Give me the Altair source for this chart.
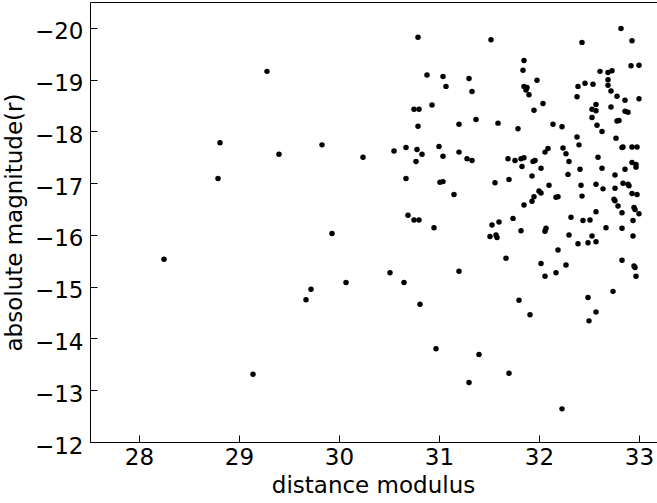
import altair as alt
import pandas as pd

distance_modulus = [
    29.28, 28.81, 29.40, 28.79, 28.25, 29.14,
    30.79, 30.88, 31.04, 31.30, 31.07, 31.33, 30.93, 30.75, 30.80, 31.37, 31.20, 30.79,
    29.83, 30.24, 30.55, 30.67, 30.78, 30.83, 30.77, 31.00, 31.04, 31.20, 31.28, 31.33,
    30.67, 31.01, 31.04, 31.15, 30.69, 30.75, 30.80, 30.95,
    29.93, 30.51, 31.20, 30.07, 30.65, 29.72, 29.67, 30.81, 30.97, 31.40, 31.30,
    31.52, 32.82, 32.93, 32.43, 31.85, 31.84, 32.92, 33.00, 32.61, 32.69, 32.73, 31.98,
    32.69, 32.46, 32.54, 32.39, 32.69, 31.85, 31.88, 31.87, 31.90, 32.72, 32.78, 32.38,
    32.86, 33.00, 32.04, 31.95, 32.57, 32.53, 32.57, 32.72, 32.86, 32.89, 32.53, 32.78,
    32.80, 31.59, 31.79, 32.14, 32.23, 32.58, 32.63, 32.38, 32.40, 32.77, 32.83, 32.84,
    32.93, 32.98, 32.09, 32.06, 32.24, 32.27, 32.30, 31.69, 31.76, 31.82, 31.85, 31.83,
    31.94, 31.96, 32.02, 31.93, 32.29, 32.41, 32.59, 32.63, 32.76, 32.86, 32.93, 32.97,
    32.97, 31.56, 31.70, 32.10, 32.42, 32.57, 32.64, 32.76, 32.84, 32.89, 32.90, 32.93,
    32.98, 31.95, 32.00, 32.02, 32.17, 32.19, 32.43, 32.75, 32.76, 31.85, 31.93, 32.79,
    32.95, 32.96, 33.00, 32.83, 32.57, 32.44, 32.51, 32.32, 31.74, 31.53, 31.60, 31.82,
    32.07, 32.67, 32.83, 32.94,
    31.51, 31.57, 31.58, 32.06, 32.30, 32.39, 32.49, 32.53, 32.57, 32.94, 31.67, 32.19,
    32.02, 32.06, 32.17, 32.27, 32.83, 32.95, 32.96, 32.97, 31.80, 31.91, 32.49, 32.57,
    32.50, 32.74, 31.70, 32.23,
]

absolute_magnitude = [
    -19.16, -17.78, -17.56, -17.09, -15.53, -13.31,
    -19.82, -19.09, -19.06, -19.02, -18.87, -18.77, -18.51, -18.43, -18.43, -18.23, -18.14, -18.10,
    -17.74, -17.50, -17.62, -17.69, -17.65, -17.56, -17.42, -17.71, -17.52, -17.60, -17.47, -17.44,
    -17.09, -17.02, -17.03, -16.78, -16.38, -16.29, -16.29, -16.14,
    -16.03, -15.27, -15.30, -15.08, -15.08, -14.95, -14.75, -14.66, -13.80, -13.69, -13.15,
    -19.77, -19.99, -19.75, -19.72, -19.37, -19.18, -19.27, -19.28, -19.16, -19.14, -19.17, -18.99,
    -19.00, -18.93, -18.91, -18.87, -18.89, -18.87, -18.85, -18.80, -18.71, -18.78, -18.68, -18.67,
    -18.60, -18.63, -18.54, -18.41, -18.52, -18.43, -18.40, -18.47, -18.39, -18.37, -18.27, -18.20,
    -18.21, -18.16, -18.05, -18.14, -18.09, -18.12, -18.00, -17.89, -17.74, -17.87, -17.69, -17.70,
    -17.70, -17.70, -17.67, -17.60, -17.68, -17.57, -17.42, -17.47, -17.44, -17.47, -17.49, -17.32,
    -17.42, -17.44, -17.29, -17.14, -17.17, -17.27, -17.50, -17.29, -17.16, -17.27, -17.40, -17.36,
    -17.31, -17.01, -17.07, -16.96, -16.96, -16.98, -16.89, -16.90, -17.00, -16.98, -16.95, -16.80,
    -16.78, -16.74, -16.85, -16.81, -16.73, -16.74, -16.75, -16.69, -16.66, -16.58, -16.65, -16.56,
    -16.53, -16.49, -16.41, -16.43, -16.45, -16.28, -16.29, -16.34, -16.32, -16.19, -16.25, -16.08,
    -16.13, -16.14, -16.13, -16.28,
    -15.97, -16.00, -15.95, -16.07, -16.00, -15.83, -15.85, -15.98, -15.87, -15.98, -15.55, -15.71,
    -15.45, -15.20, -15.27, -15.42, -15.51, -15.40, -15.37, -15.20, -14.74, -14.46, -14.79, -14.51,
    -14.34, -14.91, -13.33, -12.64,
]

x_ticks = [28, 29, 30, 31, 32, 33]
y_ticks = [-20, -19, -18, -17, -16, -15, -14, -13, -12]

df = pd.DataFrame({"dm": distance_modulus, "mag": absolute_magnitude})

FONT = "DejaVu Sans"
FS = 23

chart = (
    alt.Chart(df)
    .mark_circle(size=30, color="black", opacity=1)
    .encode(
        x=alt.X(
            "dm:Q",
            scale=alt.Scale(domain=[27.51, 33.21], nice=False, zero=False),
            axis=alt.Axis(
                title="distance modulus",
                values=x_ticks,
                format="d",
                grid=False,
                domain=False,
                offset=-7,
                tickSize=7,
                tickColor="black",
                tickWidth=1,
                labelPadding=4,
                labelFontSize=FS,
                labelFont=FONT,
                labelColor="black",
                titleFontSize=FS,
                titleFont=FONT,
                titleFontWeight="normal",
                titleColor="black",
                titlePadding=5,
                titleX=283,
                labelFlush=False,
                labelOverlap=False,
            ),
        ),
        y=alt.Y(
            "mag:Q",
            scale=alt.Scale(domain=[-20.5, -12], nice=False, zero=False, reverse=True),
            axis=alt.Axis(
                title="absolute magnitude(r)",
                values=y_ticks,
                format="d",
                grid=False,
                domain=False,
                offset=-7,
                tickSize=7,
                tickColor="black",
                tickWidth=1,
                labelPadding=7,
                labelOffset=4,
                labelFontSize=FS,
                labelFont=FONT,
                labelColor="black",
                titleFontSize=FS,
                titleFont=FONT,
                titleFontWeight="normal",
                titleColor="black",
                titlePadding=8,
                labelFlush=False,
                labelOverlap=False,
            ),
        ),
    )
    .properties(
        width=570,
        height=440,
        padding={"left": 90, "top": 2, "right": -3, "bottom": 61},
        autosize=alt.AutoSizeParams(type="none"),
        background="white",
    )
    .configure_view(stroke="black", strokeWidth=1)
)

chart.save("out.html", embed_options={"renderer": "svg", "actions": False})
